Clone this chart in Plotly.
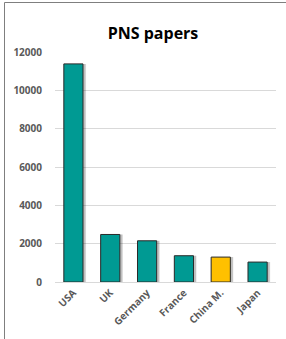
import plotly.graph_objects as go

countries = ["USA", "UK", "Germany", "France", "China M.", "Japan"]
papers = [11380, 2480, 2150, 1370, 1300, 1040]
bar_colors = ["#009A93", "#009A93", "#009A93", "#009A93", "#FFC000", "#009A93"]
y_ticks = [0, 2000, 4000, 6000, 8000, 10000, 12000]

W, H = 286, 339
L, R, T, B = 55, 10, 52, 57
pw, ph = W - L - R, H - T - B

def px(x):
    return (x - L) / pw

def py(y):
    return (H - B - y) / ph

fig = go.Figure()

# soft shadow layers
for w, op, off in [(0.62, 0.08, 0.035), (0.57, 0.18, 0.045)]:
    fig.add_trace(go.Bar(
        x=countries, y=papers, width=w, offset=-w / 2 + off,
        marker=dict(color=f"rgba(0,0,0,{op})", line=dict(width=0)),
        hoverinfo="skip", showlegend=False,
    ))

fig.add_trace(go.Bar(
    x=countries, y=papers, width=0.52, offset=-0.26,
    marker=dict(color=bar_colors, line=dict(color="#2a2a2a", width=1)),
    showlegend=False,
))

fig.update_layout(
    width=W, height=H,
    margin=dict(l=L, r=R, t=T, b=B, autoexpand=False),
    paper_bgcolor="white", plot_bgcolor="white",
    barmode="overlay",
    title=dict(text="<b>PNS papers</b>", x=px(153), xref="paper", xanchor="center",
               y=(H - 33) / H, yanchor="middle",
               font=dict(family="Open Sans, Liberation Sans, sans-serif", size=16, color="#000000")),
    font=dict(family="Open Sans, Liberation Sans, sans-serif", size=10, color="#595959"),
    yaxis=dict(range=[0, 12000], tickvals=y_ticks, ticktext=[f"<b>{v}</b>" for v in y_ticks],
               showgrid=True, gridcolor="#D9D9D9", gridwidth=1, zeroline=False,
               showline=False, ticks="", ticklabelstandoff=12, automargin=False,
               tickfont=dict(size=10, color="#595959")),
    xaxis=dict(tickvals=countries, ticktext=[f"<b>{c}</b>" for c in countries],
               tickangle=-45, showline=True, linecolor="#D9D9D9", linewidth=1,
               ticks="", showgrid=False, automargin=False,
               tickfont=dict(size=10, color="#595959")),
    shapes=[
        dict(type="line", xref="paper", yref="paper", x0=px(4.5), x1=px(W + 2),
             y0=py(2.5), y1=py(2.5), line=dict(color="#7F7F7F", width=1)),
        dict(type="line", xref="paper", yref="paper", x0=px(4.5), x1=px(4.5),
             y0=py(2.5), y1=py(H + 2), line=dict(color="#7F7F7F", width=1)),
    ],
)

fig.write_html("out.html", config={"displayModeBar": False},
               post_script="document.body.style.margin='0';document.body.style.overflow='hidden';")
